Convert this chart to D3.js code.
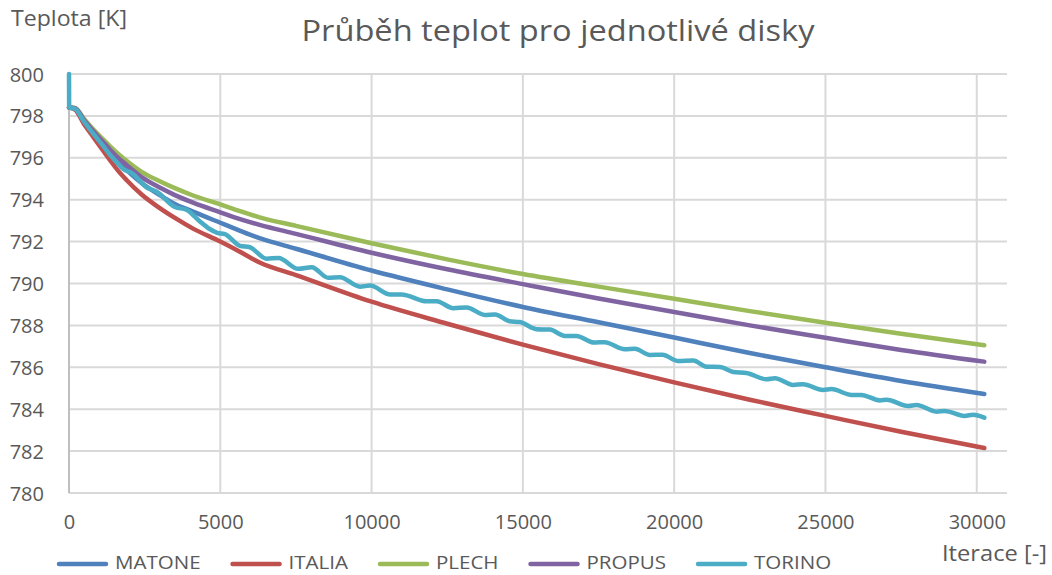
<!DOCTYPE html>
<html>
<head>
<meta charset="utf-8">
<script src="https://cdn.jsdelivr.net/npm/d3@7"></script>
<style>
  html, body { margin: 0; padding: 0; background: #ffffff; }
  svg { display: block; }
  text { font-family: "Open Sans", "Noto Sans", sans-serif; fill: #595959; }
</style>
</head>
<body>
<svg id="chart" width="1052" height="575"></svg>
<script>
// Iteration grid for the smoothly cooling discs
const iterSmooth = [0, 200, 500, 800, 1100, 1350, 1600, 1900, 2400, 3000, 3500, 4100, 5000, 5600, 6300, 7500, 10000, 12500, 15000, 17500, 20000, 22500, 25000, 27500, 30250];

const matone = [798.4, 798.36, 797.75, 797.18, 796.65, 796.2, 795.8, 795.42, 794.8, 794.22, 793.8, 793.43, 792.9, 792.55, 792.16, 791.66, 790.62, 789.72, 788.88, 788.15, 787.42, 786.68, 786.0, 785.35, 784.73];
const italia = [798.4, 798.3, 797.6, 797.0, 796.4, 795.9, 795.42, 794.94, 794.25, 793.6, 793.13, 792.62, 792.0, 791.55, 791.0, 790.4, 789.13, 788.08, 787.08, 786.15, 785.28, 784.45, 783.68, 782.92, 782.15];
const plech  = [798.4, 798.38, 797.85, 797.36, 796.92, 796.56, 796.22, 795.86, 795.33, 794.88, 794.55, 794.2, 793.78, 793.48, 793.16, 792.75, 791.92, 791.15, 790.45, 789.85, 789.27, 788.68, 788.13, 787.6, 787.05];
const propus = [798.4, 798.37, 797.8, 797.28, 796.8, 796.4, 796.03, 795.66, 795.08, 794.58, 794.22, 793.86, 793.4, 793.1, 792.8, 792.37, 791.47, 790.68, 789.97, 789.28, 788.64, 788.0, 787.41, 786.83, 786.27];

// TORINO is sampled more densely: its cooling runs in small steps
const iterTorino = [0, 5, 200, 500, 800, 1100, 1350, 1600, 1800, 2070, 2550, 2900, 3500, 3880, 4300, 4650, 4900, 5150, 5650, 5980, 6530, 6920, 7580, 8020, 8570, 8950, 9620, 9950, 10620, 10990, 11820, 12150, 12700, 13140, 13740, 14080, 14560, 14900, 15450, 15890, 16390, 16770, 17350, 17700, 18370, 18700, 19200, 19610, 20130, 20630, 21070, 21510, 21950, 22390, 23050, 23330, 23930, 24260, 24920, 25200, 25860, 26190, 26800, 27020, 27730, 28010, 28670, 28940, 29600, 29880, 30250];
const torino = [800, 798.4, 798.34, 797.72, 797.15, 796.62, 796.15, 795.75, 795.45, 795.28, 794.6, 794.38, 793.65, 793.52, 793.0, 792.6, 792.42, 792.36, 791.8, 791.73, 791.18, 791.22, 790.7, 790.78, 790.27, 790.3, 789.85, 789.9, 789.47, 789.48, 789.15, 789.15, 788.82, 788.86, 788.5, 788.52, 788.2, 788.16, 787.82, 787.8, 787.5, 787.5, 787.18, 787.2, 786.86, 786.88, 786.59, 786.6, 786.3, 786.32, 786.03, 786.02, 785.78, 785.73, 785.43, 785.48, 785.16, 785.19, 784.92, 784.96, 784.68, 784.68, 784.42, 784.45, 784.15, 784.2, 783.88, 783.92, 783.68, 783.74, 783.6];

const seriesNames = ["MATONE", "ITALIA", "PLECH", "PROPUS", "TORINO"];
const seriesColors = ["#4F81BD", "#C0504D", "#9BBB59", "#8064A2", "#4BACC6"];
const xTicks = [0, 5000, 10000, 15000, 20000, 25000, 30000];
const yTicks = [780, 782, 784, 786, 788, 790, 792, 794, 796, 798, 800];

const titleText = "Průběh teplot pro jednotlivé disky";
const yTitle = "Teplota [K]";
const xTitle = "Iterace [-]";

const series = [
  { name: seriesNames[0], color: seriesColors[0], x: iterSmooth, y: matone },
  { name: seriesNames[1], color: seriesColors[1], x: iterSmooth, y: italia },
  { name: seriesNames[2], color: seriesColors[2], x: iterSmooth, y: plech },
  { name: seriesNames[3], color: seriesColors[3], x: iterSmooth, y: propus },
  { name: seriesNames[4], color: seriesColors[4], x: iterTorino, y: torino }
];

const svg = d3.select("#chart");
const plot = { left: 69, right: 1007, top: 74, bottom: 493 };

const x = d3.scaleLinear().domain([0, 31000]).range([plot.left, plot.right]);
const y = d3.scaleLinear().domain([780, 800]).range([plot.bottom, plot.top]);

// Grid
const grid = svg.append("g");
grid.selectAll("line.h").data(yTicks).join("line")
  .attr("x1", plot.left).attr("x2", plot.right)
  .attr("y1", d => y(d)).attr("y2", d => y(d))
  .attr("stroke", "#d9d9d9").attr("stroke-width", 2);
grid.selectAll("line.v").data(xTicks.filter(d => d > 0)).join("line")
  .attr("x1", d => x(d)).attr("x2", d => x(d))
  .attr("y1", plot.top).attr("y2", plot.bottom)
  .attr("stroke", "#d9d9d9").attr("stroke-width", 2);
// Value axis line
svg.append("line")
  .attr("x1", x(0)).attr("x2", x(0))
  .attr("y1", plot.top).attr("y2", plot.bottom)
  .attr("stroke", "#bfbfbf").attr("stroke-width", 2);

// Axis labels
const yAxis = d3.axisLeft(y).tickValues(yTicks).tickSize(0).tickPadding(0).tickFormat(d3.format("d"));
const gy = svg.append("g").attr("transform", "translate(44,0)").call(yAxis);
gy.select(".domain").remove();
gy.selectAll("text").attr("font-size", 20).attr("fill", "#595959")
  .attr("font-family", "Open Sans, sans-serif").attr("dy", "0.35em");

const xAxis = d3.axisBottom(x).tickValues(xTicks).tickSize(0).tickPadding(0).tickFormat(d3.format("d"));
const gx = svg.append("g").attr("transform", "translate(0,515)").call(xAxis);
gx.select(".domain").remove();
gx.selectAll("text").attr("font-size", 20).attr("fill", "#595959")
  .attr("font-family", "Open Sans, sans-serif").attr("dy", "0.71em");

// Lines
const line = d3.line().curve(d3.curveMonotoneX);
svg.append("g").selectAll("path").data(series).join("path")
  .attr("d", s => line(s.x.map((v, i) => [x(v), y(s.y[i])])))
  .attr("fill", "none")
  .attr("stroke", s => s.color)
  .attr("stroke-width", 4.5)
  .attr("stroke-linejoin", "round")
  .attr("stroke-linecap", "round");

// Titles
svg.append("text").attr("x", 558).attr("y", 41)
  .attr("text-anchor", "middle").attr("font-size", 29)
  .attr("textLength", 513).attr("lengthAdjust", "spacingAndGlyphs")
  .text(titleText);
svg.append("text").attr("x", 11).attr("y", 26)
  .attr("font-size", 21)
  .attr("textLength", 116).attr("lengthAdjust", "spacingAndGlyphs")
  .text(yTitle);
svg.append("text").attr("x", 942).attr("y", 561)
  .attr("font-size", 21)
  .attr("textLength", 105).attr("lengthAdjust", "spacingAndGlyphs")
  .text(xTitle);

// Legend
const legend = svg.append("g");
let lx = 57;
const ly = 564;
series.forEach(s => {
  legend.append("line")
    .attr("x1", lx + 2).attr("x2", lx + 49)
    .attr("y1", ly).attr("y2", ly)
    .attr("stroke", s.color).attr("stroke-width", 4.5)
    .attr("stroke-linecap", "round");
  const t = legend.append("text")
    .attr("x", lx + 58).attr("y", ly + 5)
    .attr("font-size", 19)
    .text(s.name);
  const w = t.node().getComputedTextLength() * 1.08;
  t.attr("textLength", w).attr("lengthAdjust", "spacingAndGlyphs");
  lx += 58 + w + 30;
});
</script>
</body>
</html>
